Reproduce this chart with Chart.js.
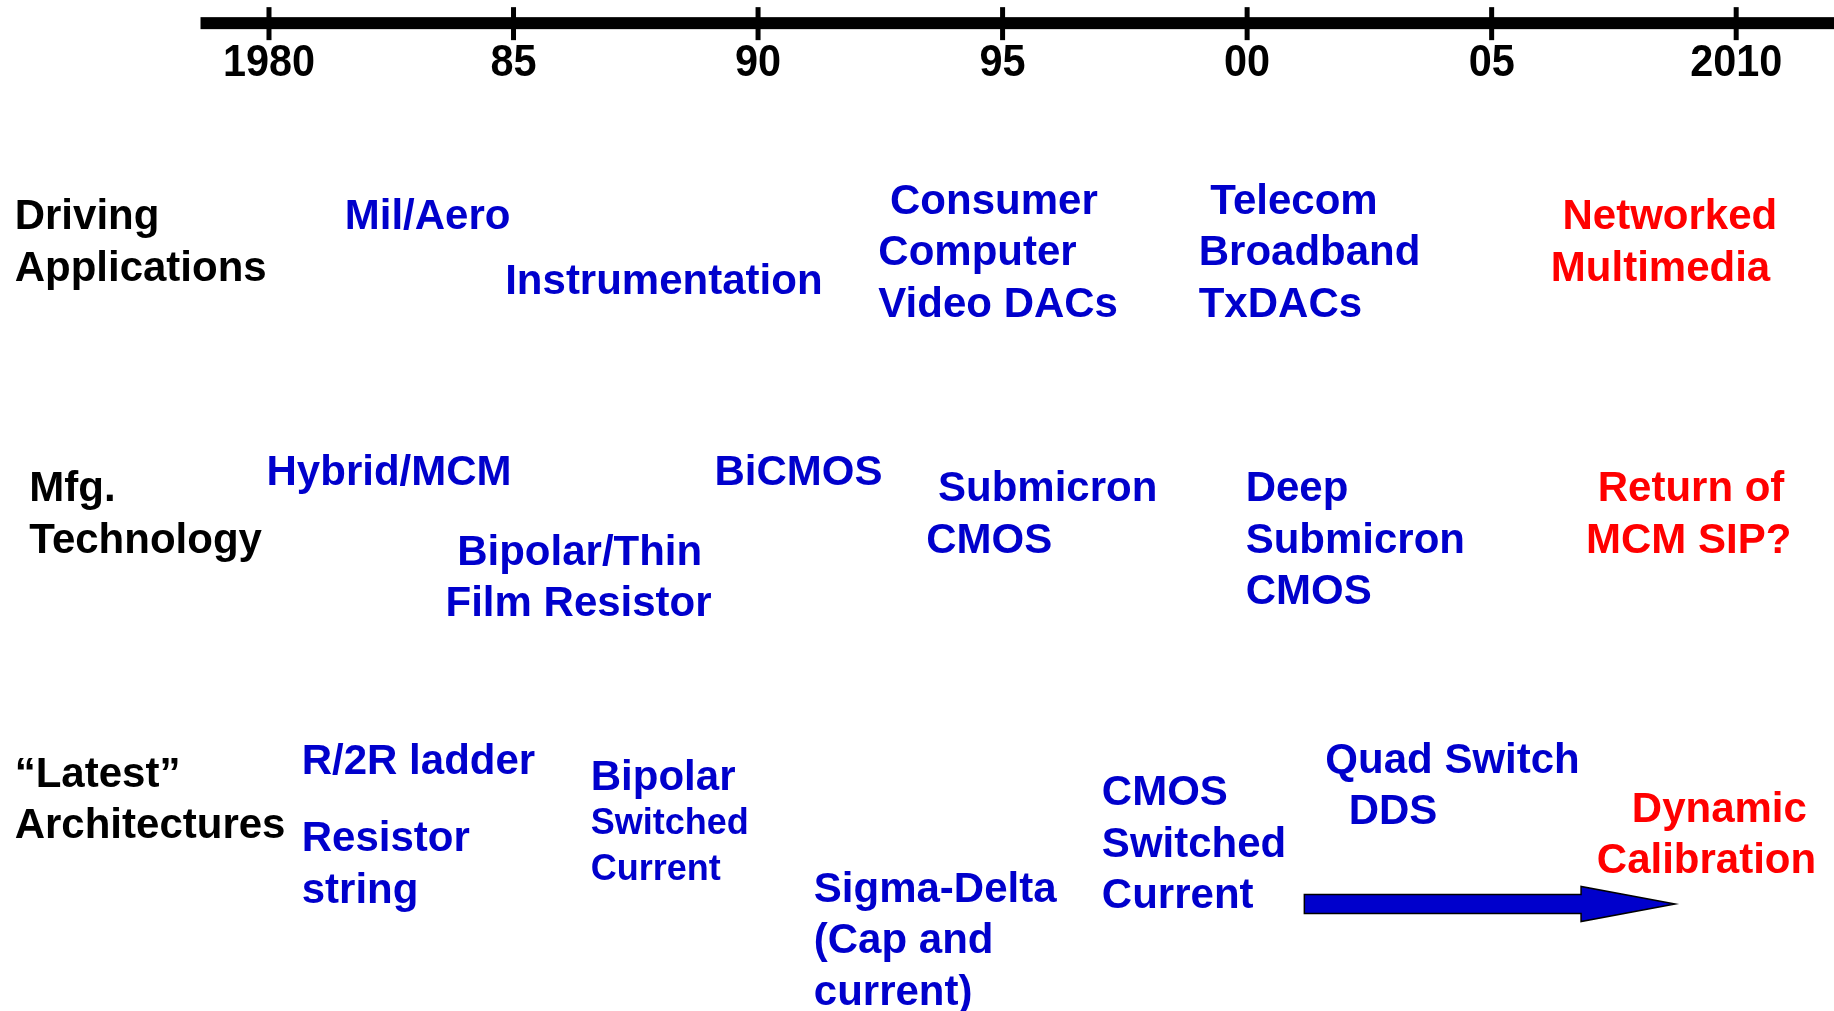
<!DOCTYPE html>
<html>
<head>
<meta charset="utf-8">
<script src="https://cdn.jsdelivr.net/npm/chart.js@4.4.1/dist/chart.umd.min.js"></script>
<style>
  html, body { margin: 0; padding: 0; background: #fff; }
  canvas { display: block; }
</style>
</head>
<body>
<canvas id="timeline" width="1834" height="1011"></canvas>
<script>
// timeline axis
const years = [1980, 1985, 1990, 1995, 2000, 2005, 2010];
const yearLabels = ['1980', '85', '90', '95', '00', '05', '2010'];
const axisStart = 1978.6;

// row headings (x in years, y in text rows)
const rowNames = [['Driving', 'Applications'], ['Mfg.', 'Technology'], ['\u201cLatest\u201d', 'Architectures']];
const rowNameX = [1974.8, 1975.1, 1974.8];
const rowNameY = [4.23, 9.52, 15.07];

// Driving Applications
const appText = [['Mil/Aero'], ['Instrumentation'], [' Consumer', 'Computer', 'Video DACs'], [' Telecom', 'Broadband', 'TxDACs'], [' Networked', 'Multimedia']];
const appX = [1981.55, 1984.83, 1992.46, 1999.01, 2006.21];
const appY = [4.23, 5.48, 3.93, 3.93, 4.23];

// Mfg. Technology
const techText = [['Hybrid/MCM'], ['BiCMOS'], [' Bipolar/Thin', 'Film Resistor'], [' Submicron', 'CMOS'], ['Deep', 'Submicron', 'CMOS'], [' Return of', 'MCM SIP?']];
const techX = [1979.95, 1989.11, 1983.61, 1993.44, 1999.97, 2006.93];
const techY = [9.21, 9.21, 10.75, 9.52, 9.52, 9.52];

// "Latest" Architectures
const archText = [['R/2R ladder'], ['Resistor', 'string'], ['Bipolar'], ['Switched', 'Current'], ['Sigma-Delta', '(Cap and', 'current)'], ['CMOS', 'Switched', 'Current'], ['Quad Switch', '  DDS'], ['   Dynamic', 'Calibration']];
const archX = [1980.67, 1980.67, 1986.58, 1986.58, 1991.14, 1997.03, 2001.60, 2007.15];
const archY = [14.82, 16.32, 15.12, 16.02, 17.30, 15.43, 14.80, 15.75];
const archMinor = [3];

// trend arrow
const arrowX = [2001.17, 2008.75];
const arrowY = 17.57;

const futureAfter = 2006; // red = not yet here

const FONT = '"Liberation Sans", Arial, Helvetica, sans-serif';
const BLUE = '#0000cc';
const RED = '#ff0000';

function points(xs, ys) {
    return xs.map((x, i) => ({ x, y: Array.isArray(ys) ? ys[i] : ys }));
}

const textPlugin = {
    id: 'timelineText',
    afterDatasetsDraw(chart) {
        const ctx = chart.ctx;
        const xs = chart.scales.x;
        const ys = chart.scales.y;
        const rowPx = ys.getPixelForValue(1) - ys.getPixelForValue(0);
        ctx.save();

        // axis line + ticks
        const axisY = ys.getPixelForValue(0.45);
        ctx.fillStyle = '#000';
        const x0 = xs.getPixelForValue(axisStart);
        ctx.fillRect(x0, axisY - 6, chart.width - x0, 12);
        const labelY = ys.getPixelForValue(1.24);
        years.forEach((yr, i) => {
            const px = xs.getPixelForValue(yr);
            ctx.fillRect(px - 2.5, axisY - 16, 5, 33);
            ctx.save();
            ctx.translate(px, labelY);
            ctx.scale(0.92, 1);
            ctx.font = 'bold 45px ' + FONT;
            ctx.textAlign = 'center';
            ctx.textBaseline = 'middle';
            ctx.fillText(yearLabels[i], 0, 0);
            ctx.restore();
        });

        // text blocks
        ctx.textAlign = 'left';
        ctx.textBaseline = 'middle';
        chart.data.datasets.forEach((ds, di) => {
            if (!ds.lines) return;
            const meta = chart.getDatasetMeta(di);
            meta.data.forEach((pt, j) => {
                const minor = ds.minor && ds.minor.includes(j);
                const size = minor ? 36 : 42;
                const step = minor ? 0.89 : 1;
                const val = ds.data[j];
                ctx.fillStyle = ds.color ? ds.color : (val.x > futureAfter ? RED : BLUE);
                ctx.font = 'bold ' + size + 'px ' + FONT;
                ds.lines[j].forEach((line, k) => {
                    ctx.fillText(line, pt.x, pt.y + k * step * rowPx);
                });
            });
        });

        // arrow
        const ax0 = xs.getPixelForValue(arrowX[0]);
        const ax1 = xs.getPixelForValue(arrowX[1]);
        const ay = ys.getPixelForValue(arrowY);
        const head = 94, shaft = 9.5, wing = 17.5;
        ctx.beginPath();
        ctx.moveTo(ax0, ay - shaft);
        ctx.lineTo(ax1 - head, ay - shaft);
        ctx.lineTo(ax1 - head, ay - wing);
        ctx.lineTo(ax1, ay);
        ctx.lineTo(ax1 - head, ay + wing);
        ctx.lineTo(ax1 - head, ay + shaft);
        ctx.lineTo(ax0, ay + shaft);
        ctx.closePath();
        ctx.fillStyle = BLUE;
        ctx.fill();
        ctx.lineWidth = 1.5;
        ctx.strokeStyle = '#000';
        ctx.stroke();

        ctx.restore();
    }
};

new Chart(document.getElementById('timeline'), {
    type: 'scatter',
    data: {
        datasets: [
            { label: 'Rows', data: points(rowNameX, rowNameY), lines: rowNames, color: '#000', pointRadius: 0 },
            { label: 'Driving Applications', data: points(appX, appY), lines: appText, pointRadius: 0 },
            { label: 'Mfg. Technology', data: points(techX, techY), lines: techText, pointRadius: 0 },
            { label: 'Latest Architectures', data: points(archX, archY), lines: archText, minor: archMinor, pointRadius: 0 }
        ]
    },
    options: {
        responsive: false,
        animation: false,
        events: [],
        layout: { padding: 0 },
        plugins: { legend: { display: false }, tooltip: { enabled: false } },
        scales: {
            x: { type: 'linear', min: 1974.5, max: 2012.0, display: false },
            y: { type: 'linear', min: 0, max: 19.65, reverse: true, display: false }
        }
    },
    plugins: [textPlugin]
});
</script>
</body>
</html>
